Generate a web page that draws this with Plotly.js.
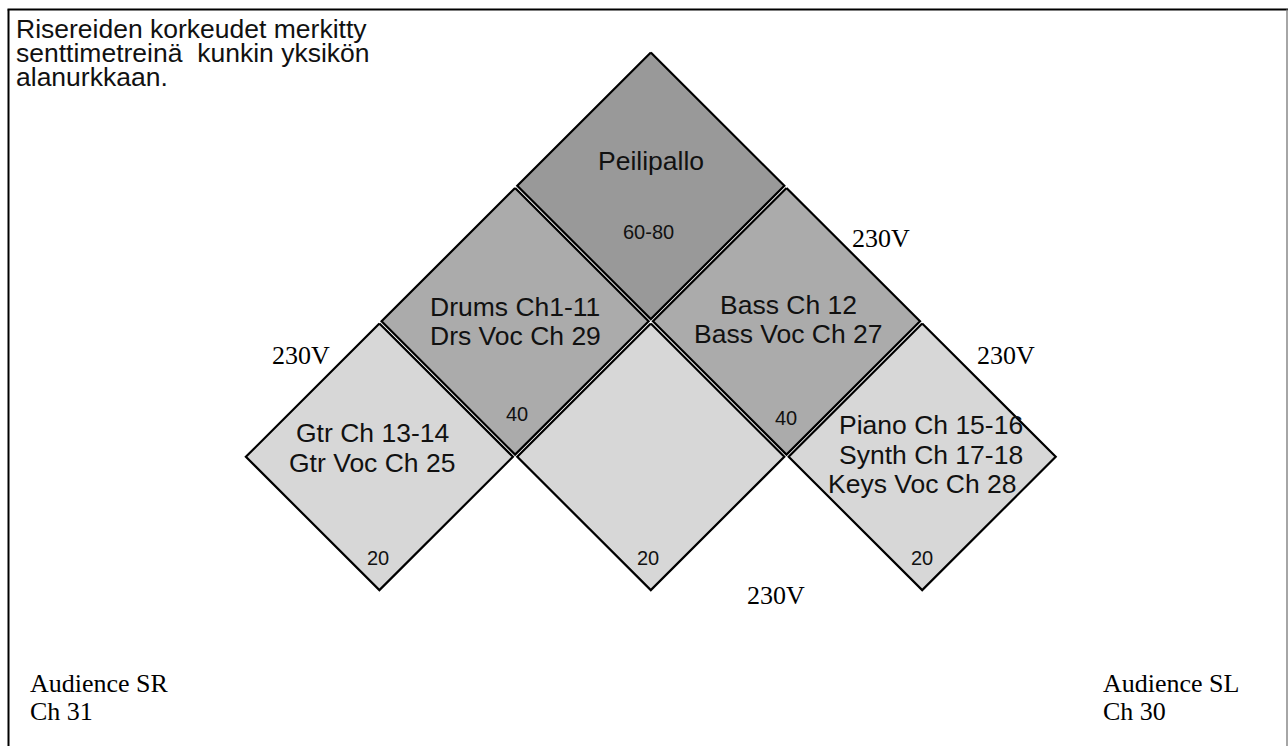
<!DOCTYPE html>
<html>
<head>
<meta charset="utf-8">
<script src="https://cdn.plot.ly/plotly-3.0.1.min.js"></script>
<style>html,body{margin:0;padding:0;background:#fff;}#chart{width:1288px;height:746px;}</style>
</head>
<body>
<div id="chart"></div>
<script>
// ---- data ----
const riserNames   = ['Peilipallo', 'Drums', 'Bass', 'Gtr', 'Keski', 'Keys'];
const riserCol     = [0, -1, 1, -2, 0, 2];
const riserRow     = [2, 1, 1, 0, 0, 0];
const riserHeights = ['60-80', '40', '40', '20', '20', '20'];
const riserLabels  = [
  ['Peilipallo'],
  ['Drums Ch1-11', 'Drs Voc Ch 29'],
  ['Bass Ch 12', 'Bass Voc Ch 27'],
  ['Gtr Ch 13-14', 'Gtr Voc Ch 25'],
  [],
  ['Piano Ch 15-16', 'Synth Ch 17-18', 'Keys Voc Ch 28']
];
const noteLines    = ['Risereiden korkeudet merkitty', 'senttimetreinä\u00a0 kunkin yksikön', 'alanurkkaan.'];
const powerLabel   = '230V';
const powerX       = [-2.578, 1.696, 2.618, 0.923];
const powerY       = [0.744, 1.613, 0.744, -1.027];
const audienceSR   = ['Audience SR', 'Ch 31'];
const audienceSL   = ['Audience SL', 'Ch 30'];

// ---- styles ----
const HALF = 0.984;
const fillColors = ['#999999', '#ababab', '#ababab', '#d7d7d7', '#d7d7d7', '#d7d7d7'];
const SANS = 'Liberation Sans, Arial, Helvetica, sans-serif';
const SERIF = 'Liberation Serif, Times New Roman, serif';
const TXT = '#111111';
const LABEL_SIZE = 26.5;
// per-riser label offsets (pixels): [xshift, yshift] per line
const labelShift = [
  [[0, 25]],
  [[0, 14], [0, -14.5]],
  [[1.5, 16], [1.5, -13]],
  [[-7.4, 24.3], [-7.4, -5.7]],
  [],
  [[9.1, 31.8], [8.8, 1.8], [-0.2, -27.2]]
];
const heightShift = [[-2.5, -46], [2, -92.7], [-1, -96.2], [-1.4, -100.7], [-2.8, -101.2], [-0.2, -100.7]];

const traces = riserNames.map((n, i) => {
  const c = riserCol[i], r = riserRow[i];
  return {
    type: 'scatter', mode: 'lines', name: n,
    x: [c, c + HALF, c, c - HALF, c],
    y: [r + HALF, r, r - HALF, r, r + HALF],
    fill: 'toself', fillcolor: fillColors[i],
    line: {color: '#000', width: 2.2},
    hoverinfo: 'skip'
  };
});

const ann = [];
riserNames.forEach((n, i) => {
  riserLabels[i].forEach((t, j) => {
    ann.push({x: riserCol[i], y: riserRow[i], xref: 'x', yref: 'y', text: t, showarrow: false,
      xanchor: 'center', yanchor: 'middle', xshift: labelShift[i][j][0], yshift: labelShift[i][j][1],
      font: {family: SANS, size: LABEL_SIZE, color: TXT}});
  });
  ann.push({x: riserCol[i], y: riserRow[i], xref: 'x', yref: 'y', text: riserHeights[i], showarrow: false,
    xanchor: 'center', yanchor: 'middle', xshift: heightShift[i][0], yshift: heightShift[i][1],
    font: {family: SANS, size: 20, color: TXT}});
});
powerX.forEach((x, i) => {
  ann.push({x: x, y: powerY[i], xref: 'x', yref: 'y', text: powerLabel, showarrow: false,
    xanchor: 'center', yanchor: 'middle', font: {family: SERIF, size: 26, color: '#000'}});
});
const noteY = [3.159, 2.980, 2.801];
noteLines.forEach((t, i) => {
  ann.push({x: -4.696, y: noteY[i], xref: 'x', yref: 'y', text: t, showarrow: false,
    xanchor: 'left', yanchor: 'middle', font: {family: SANS, size: LABEL_SIZE, color: TXT}});
});
const audY = [-1.673, -1.880];
audienceSR.forEach((t, i) => {
  ann.push({x: -4.590, y: audY[i], xref: 'x', yref: 'y', text: t, showarrow: false,
    xanchor: 'left', yanchor: 'middle', font: {family: SERIF, size: 26, color: '#000'}});
});
audienceSL.forEach((t, i) => {
  ann.push({x: 3.314, y: audY[i], xref: 'x', yref: 'y', text: t, showarrow: false,
    xanchor: 'left', yanchor: 'middle', font: {family: SERIF, size: 26, color: '#000'}});
});

const layout = {
  width: 1288, height: 746,
  margin: {l: 0, r: 0, t: 0, b: 0, pad: 0},
  paper_bgcolor: '#fff', plot_bgcolor: '#fff',
  showlegend: false, hovermode: false,
  xaxis: {range: [-4.7959, 4.6957], visible: false, fixedrange: true},
  yaxis: {range: [-2.1343, 3.3712], visible: false, fixedrange: true},
  annotations: ann,
  shapes: [
    {type: 'line', xref: 'paper', yref: 'paper', x0: 8.5/1288, x1: 8.5/1288, y0: 0, y1: 1 - 9.5/746, line: {color: '#000', width: 2}},
    {type: 'line', xref: 'paper', yref: 'paper', x0: 7.5/1288, x1: 1, y0: 1 - 9.5/746, y1: 1 - 9.5/746, line: {color: '#000', width: 2}},
    {type: 'line', xref: 'paper', yref: 'paper', x0: 1287/1288, x1: 1287/1288, y0: 0, y1: 1 - 9.5/746, line: {color: '#888', width: 1.5}}
  ]
};

Plotly.newPlot('chart', traces, layout, {staticPlot: true, displayModeBar: false});
</script>
</body>
</html>
